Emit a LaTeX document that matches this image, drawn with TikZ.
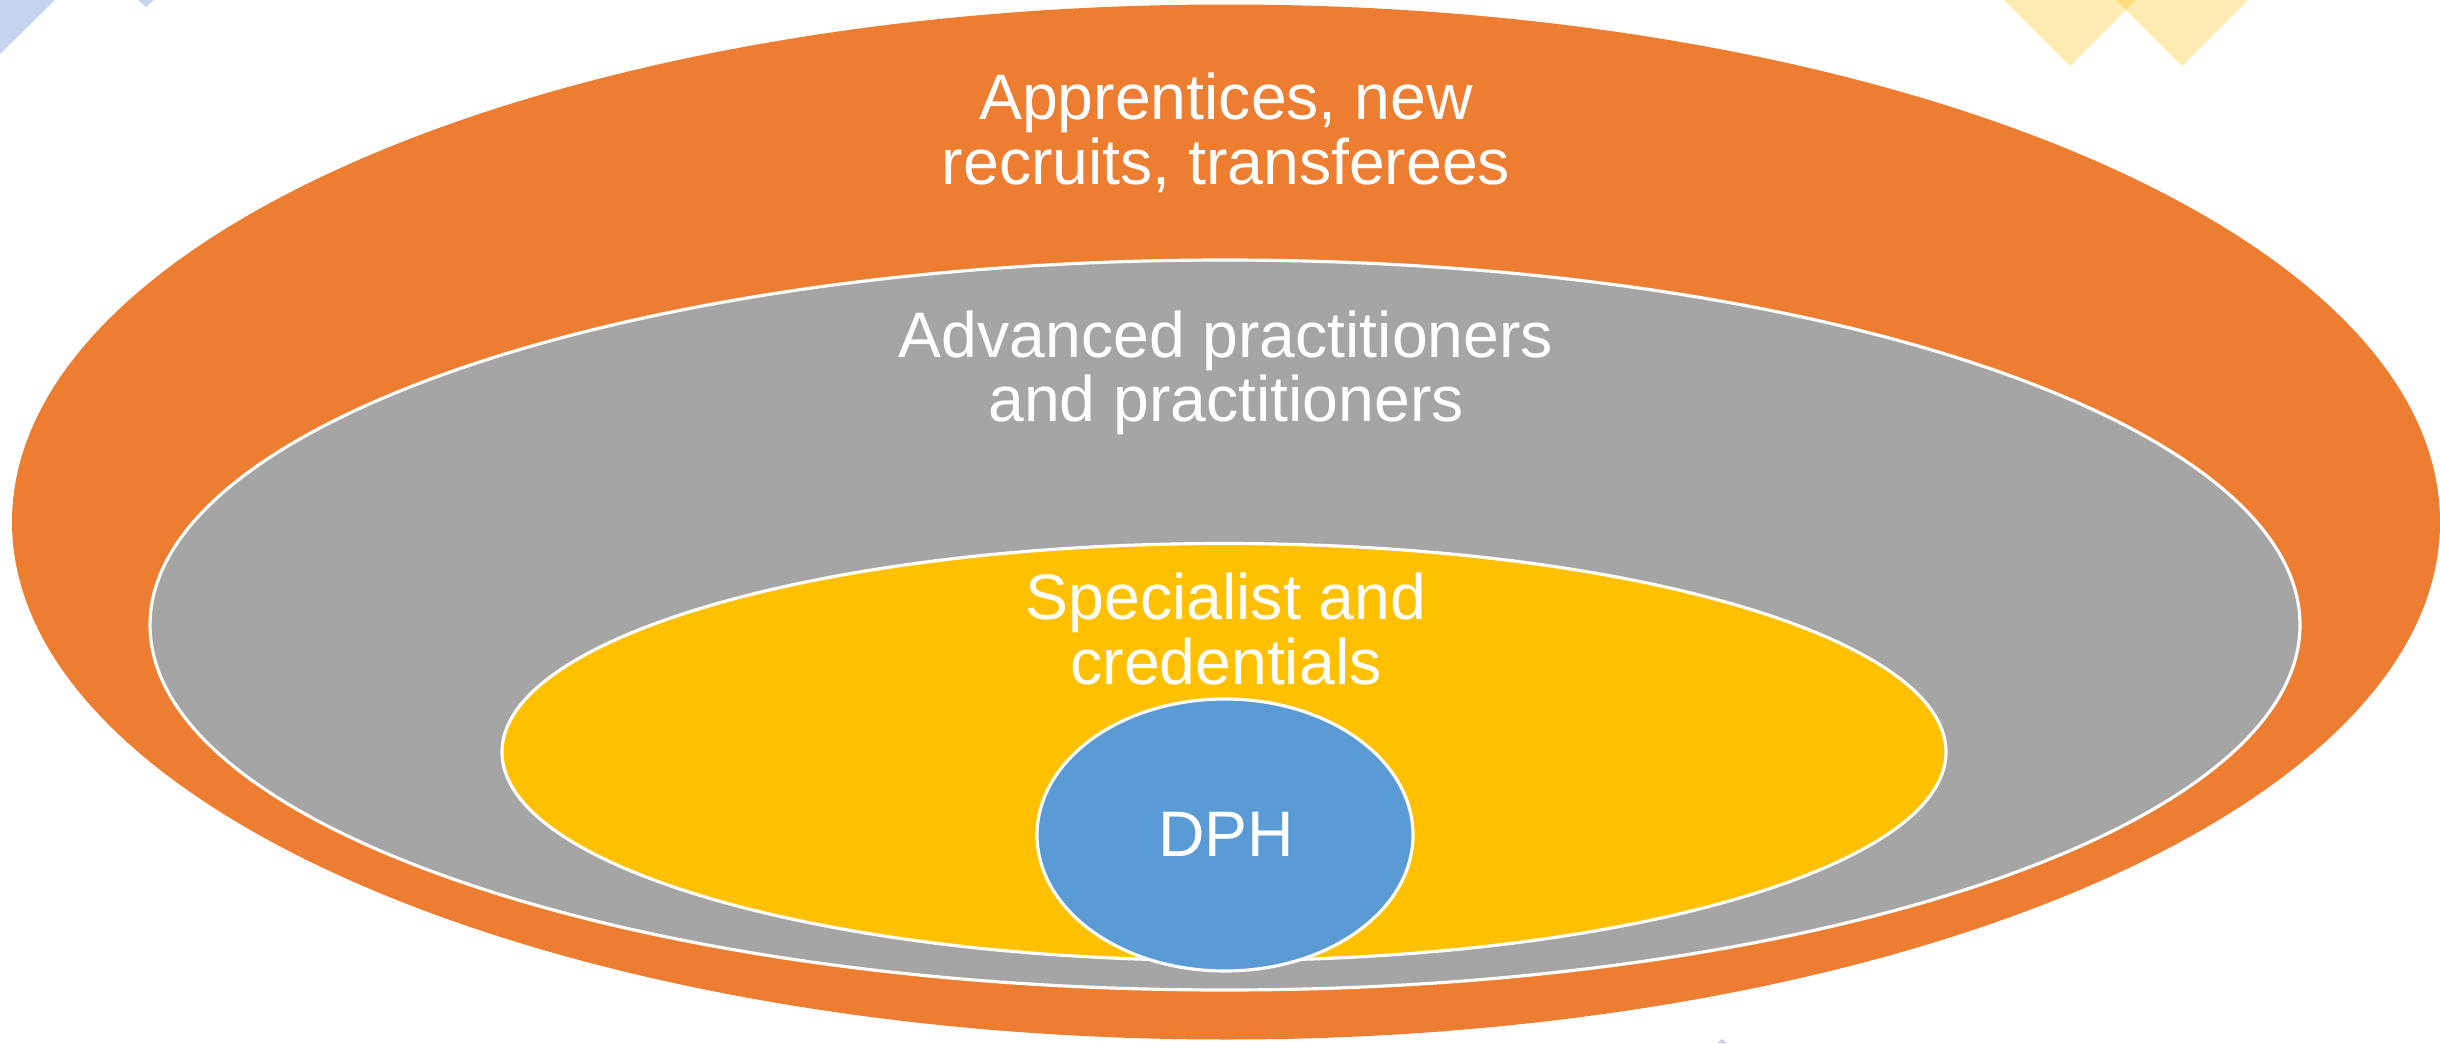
\documentclass[tikz,border=0pt]{standalone}
\usepackage{fontspec}
\setmainfont{Liberation Sans}
\usetikzlibrary{shapes.geometric}
\definecolor{ringorange}{HTML}{ED7D31}
\definecolor{ringgray}{HTML}{A5A5A5}
\definecolor{ringyellow}{HTML}{FFC000}
\definecolor{ringblue}{HTML}{5B9BD5}
\definecolor{decoblue}{HTML}{4472C4}
\tikzset{
ring/.style={ellipse, inner sep=0pt, draw=white, line width=0.9pt},
lbl/.style={text=white, align=center, inner sep=0pt, font=\fontsize{18.3}{18.4}\selectfont},
deco/.style={opacity=0.3}
}
\begin{document}
\begin{tikzpicture}[x=0.1mm, y=0.1mm]
\useasboundingbox (0,0) rectangle (2440,1043);
% corner decorations
\fill[deco, decoblue] (0,1043) -- (55,1043) -- (0,989) -- cycle;
\fill[deco, decoblue] (138,1043) -- (154,1043) -- (146,1036) -- cycle;
\fill[deco, decoblue] (1717,0) -- (1727,0) -- (1722,4) -- cycle;
\fill[deco, ringyellow] (2004,1043) -- (2136,1043) -- (2070,977) -- cycle;
\fill[deco, ringyellow] (2116,1043) -- (2248,1043) -- (2182,977) -- cycle;
% rings
\node[ellipse, inner sep=0pt, fill=ringorange, minimum width=242.8mm, minimum height=103.5mm] (outer) at (1226,521) {};
\node[ring, fill=ringgray, minimum width=215mm, minimum height=73mm] (adv) at (1225,418) {};
\node[ring, fill=ringyellow, minimum width=144.4mm, minimum height=41.7mm] (spec) at (1224,291) {};
\node[ring, fill=ringblue, minimum width=37.6mm, minimum height=27.2mm] (dph) at (1225,208) {};
% labels
\node[lbl] (outerlbl) at (1226,910) {Apprentices, new\\recruits, transferees};
\node[lbl] (advlbl) at (1226,670) {Advanced practitioners\\and practitioners};
\node[lbl] (speclbl) at (1226,414) {Specialist and\\credentials};
\node[lbl] (dphlbl) at (1226,209) {DPH};
\end{tikzpicture}
\end{document}
